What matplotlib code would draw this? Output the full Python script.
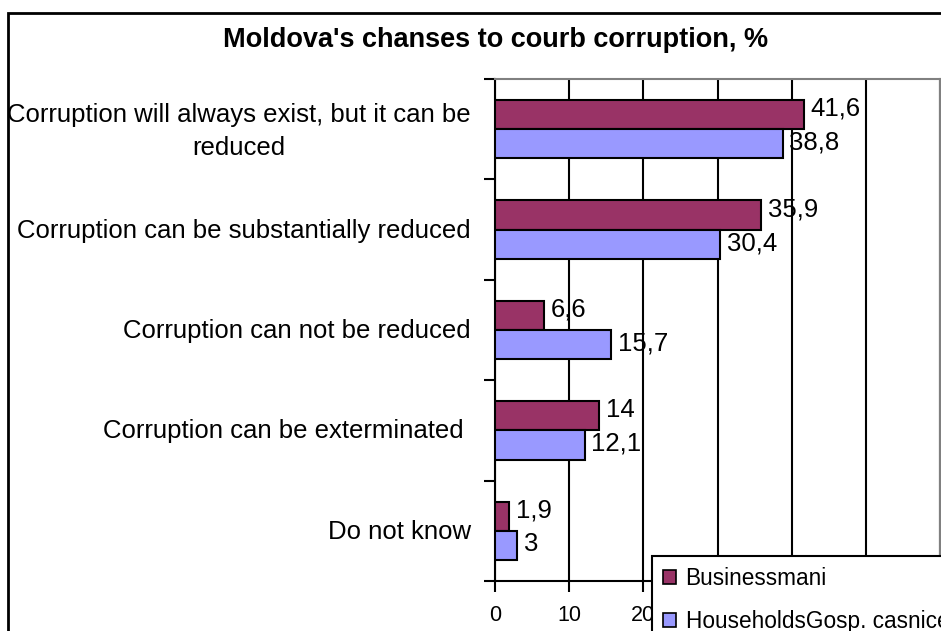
import matplotlib
matplotlib.use("Agg")
import matplotlib.pyplot as plt
from matplotlib.patches import Rectangle, Patch
from matplotlib import transforms

plt.rcParams['font.family'] = ['Liberation Sans', 'DejaVu Sans']

categories = [
    "Corruption will always exist, but it can be\nreduced",
    "Corruption can be substantially reduced",
    "Corruption can not be reduced",
    "Corruption can be exterminated ",
    "Do not know",
]
business = [41.6, 35.9, 6.6, 14, 1.9]
households = [38.8, 30.4, 15.7, 12.1, 3]
series_names = ["Businessmani", "HouseholdsGosp. casnice"]
x_ticks = [0, 10, 20, 30, 40, 50, 60]
x_tick_labels = ["0", "10", "20", "", "", "", ""]  # others hidden behind legend
title = "Moldova's chanses to courb corruption, %"

c_bus = "#993366"
c_hh = "#9999FF"

W, H = 941, 631
fig = plt.figure(figsize=(W / 100, H / 100), dpi=100)

# figure frame (cut off on right and bottom)
frame = Rectangle((8 / W, -0.2), 1.5, 1 - 13 / H + 0.2, transform=fig.transFigure,
                  fill=False, edgecolor="black", linewidth=2, clip_on=False)
fig.patches.append(frame)

left, right, top, bottom = 495, 940, 79, 581
ax = fig.add_axes([left / W, 1 - bottom / H, (right - left) / W, (bottom - top) / H])

n = len(categories)
centers = [i + 0.5 for i in range(n)]
h = 0.29

def fmt(v):
    s = ("%g" % v)
    return s.replace(".", ",")

ax.barh([c - h / 2 for c in centers], business, height=h, color=c_bus,
        edgecolor="black", linewidth=1.5, zorder=3)
ax.barh([c + h / 2 for c in centers], households, height=h, color=c_hh,
        edgecolor="black", linewidth=1.5, zorder=3)

for c, b, hh in zip(centers, business, households):
    ax.text(b + 0.9, c - h / 2 - 0.06, fmt(b), va="center", ha="left", fontsize=18.5, zorder=4)
    ax.text(hh + 0.9, c + h / 2 - 0.01, fmt(hh), va="center", ha="left", fontsize=18.5, zorder=4)

ax.set_xlim(0, 60)
ax.set_ylim(n, 0)
ax.set_xticks(x_ticks)
ax.set_xticklabels(x_tick_labels, fontsize=15.5)
ax.tick_params(axis="x", direction="out", length=8, width=1.5, pad=9)
ax.set_yticks(range(n + 1))
ax.set_yticklabels([])
ax.tick_params(axis="y", which="major", direction="out", length=8, width=1.5)

# category labels, right-aligned 24 px left of the axis
lab_tr = transforms.offset_copy(ax.get_yaxis_transform(), fig=fig, x=-24, y=-1, units="dots")
for c, lab in zip(centers, categories):
    yy = c + 0.015 if "\n" in lab else c
    ax.text(0, yy, lab, transform=lab_tr, ha="right", va="center", fontsize=18.5,
            multialignment="center", linespacing=1.45, clip_on=False)

ax.grid(axis="x", color="black", linewidth=1.5, zorder=1)
ax.set_axisbelow(True)
for s in ["left", "bottom"]:
    ax.spines[s].set_linewidth(1.5)
    ax.spines[s].set_color("black")
for s in ["top", "right"]:
    ax.spines[s].set_linewidth(1.5)
    ax.spines[s].set_color("#808080")

fig.text(496 / W, 1 - 40 / H, title, ha="center", va="center", fontsize=19.5,
         fontweight="bold")

handles = [Patch(facecolor=c_bus, edgecolor="black", linewidth=1.2),
           Patch(facecolor=c_hh, edgecolor="black", linewidth=1.2)]
leg = fig.legend(handles, series_names, loc="upper left",
                 bbox_to_anchor=(652 / W, 1 - 556 / H), fontsize=16.3,
                 frameon=True, fancybox=False, borderaxespad=0, borderpad=0.5,
                 handlelength=0.58, handleheight=0.58, handletextpad=0.4,
                 labelspacing=0.85)
leg.get_frame().set_edgecolor("black")
leg.get_frame().set_linewidth(1.5)
leg.get_frame().set_facecolor("white")
leg.get_frame().set_alpha(1)

fig.savefig("out.png", dpi=100, facecolor="white")
